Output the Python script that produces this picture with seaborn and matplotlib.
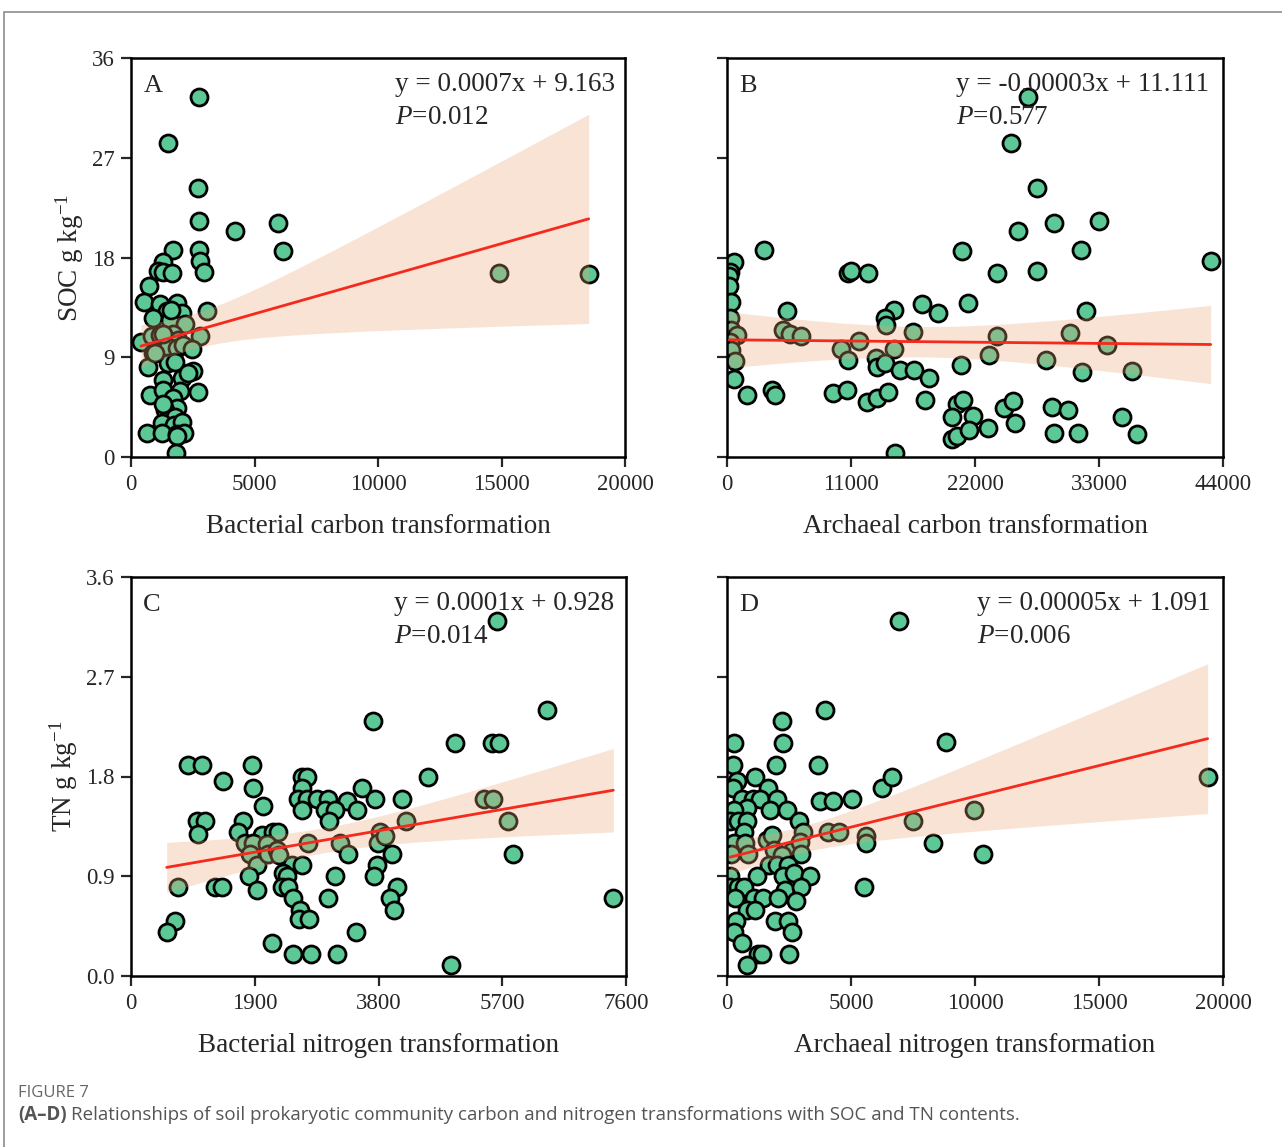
import numpy as np
import pandas as pd
import matplotlib
matplotlib.use('Agg')
import matplotlib.pyplot as plt
from matplotlib.patches import Rectangle
import seaborn as sns

# ---- data ----
# A: SOC vs bacterial carbon transformation
a_x = [2750, 1490, 2710, 2740, 4210, 5950, 6160, 1690, 2750, 2790, 2970, 1310, 1110, 1310, 1645,
       730, 540, 1175, 1850, 1445, 2050, 905, 1580, 2185, 3065, 405, 840, 1175, 1715, 1915, 2795,
       905, 1510, 1850, 2120, 2455, 700, 1480, 1780, 2050, 2525, 2325, 1310, 770, 1310, 1985, 2700,
       1715, 1850, 1375, 1780, 1280, 1240, 1740, 2050, 635, 1240, 1850, 2160, 1850, 1810,
       14910, 18530, 970, 1280, 1600]
a_y = [32.5, 28.3, 24.3, 21.3, 20.4, 21.1, 18.6, 18.7, 18.7, 17.7, 16.7, 17.6, 16.8, 16.7, 16.6,
       15.4, 14.0, 13.8, 13.9, 13.2, 13.0, 12.5, 12.4, 12.0, 13.2, 10.4, 10.9, 11.0, 11.1, 10.6, 10.9,
       9.35, 9.95, 9.8, 10.1, 9.7, 8.15, 8.45, 8.6, 7.1, 7.8, 7.6, 6.95, 5.6, 6.05, 6.0, 5.85,
       5.3, 4.4, 4.25, 3.65, 4.75, 3.05, 2.9, 3.2, 2.2, 2.2, 2.1, 2.15, 1.9, 0.4,
       16.6, 16.5, 9.4, 11.1, 13.3]

# B: SOC vs archaeal carbon transformation
b_x = [26730, 25220, 27470, 29040, 33030, 25850, 3310, 20820, 31430, 42910, 620, 265, 205, 205, 355,
       10760, 11000, 12480, 23920, 27470, 5290, 14810, 14020, 17330, 18690, 21410, 31820,
       265, 355, 860, 265, 355, 4990, 5590, 6560, 10110, 11710, 14080, 14840, 16470, 23240, 23980,
       28270, 30450, 33680, 35900, 710, 620, 1800, 3960, 4260, 10710, 9430, 10670,
       13220, 13330, 14020, 12390, 13330, 14250, 15350, 16620, 17950, 17560, 14900,
       20760, 20370, 20960, 19990, 21850, 19930, 20430, 21500, 23180, 24570, 25340, 25550,
       31460, 28800, 30280, 29040, 31160, 35070, 36340]
b_y = [32.5, 28.3, 24.25, 21.1, 21.3, 20.4, 18.7, 18.6, 18.7, 17.7, 17.6, 16.7, 16.3, 15.4, 14.0,
       16.6, 16.8, 16.6, 16.6, 16.8, 13.2, 13.3, 12.5, 13.8, 13.0, 13.9, 13.2,
       12.5, 11.5, 11.0, 10.4, 9.65, 11.5, 11.1, 10.95, 9.7, 10.5, 11.9, 9.75, 11.25, 9.2, 10.95,
       8.75, 11.15, 10.1, 7.8, 8.7, 7.0, 5.6, 6.05, 5.6, 8.75, 5.75, 6.05,
       8.9, 8.15, 8.5, 5.0, 5.3, 5.9, 7.85, 7.85, 7.1, 5.15, 0.33,
       8.3, 4.8, 5.1, 3.6, 3.7, 1.6, 1.9, 2.45, 2.6, 4.4, 5.05, 3.05,
       7.7, 4.55, 4.2, 2.2, 2.2, 3.65, 2.1]

# C: TN vs bacterial nitrogen transformation
c_x = [5615, 6383, 3720, 4975, 5538, 5650, 880, 1095, 1853, 1408, 1878, 2620, 2697, 4565, 2620,
       3542, 2022, 2569, 2697, 2851, 3030, 3312, 3747, 4166, 2620, 2979, 3132, 3465, 3045,
       1008, 1136, 1034, 1724, 1647, 2006, 2185, 2262, 1750, 1878, 1827, 1930, 2083, 2108,
       2237, 2277, 2722, 3209, 3823, 3797, 3900, 4218, 5425, 5563, 5793, 717,
       3327, 4003, 5870, 2467, 2620, 3772, 1817, 2339, 2390, 3132, 3736,
       1290, 1392, 1930, 2313, 2416, 4089, 2483, 3030, 3977, 7405, 2595, 4043, 2585, 2733,
       676, 548, 3455, 2170, 2483, 2759, 3158, 4913]
c_y = [3.20, 2.40, 2.30, 2.10, 2.10, 2.10, 1.90, 1.90, 1.90, 1.76, 1.70, 1.80, 1.80, 1.80, 1.70,
       1.70, 1.53, 1.60, 1.60, 1.60, 1.60, 1.58, 1.60, 1.60, 1.50, 1.50, 1.50, 1.50, 1.40,
       1.40, 1.40, 1.28, 1.40, 1.30, 1.27, 1.30, 1.30, 1.20, 1.20, 1.10, 1.00, 1.19, 1.10,
       1.14, 1.09, 1.20, 1.20, 1.30, 1.20, 1.26, 1.40, 1.60, 1.60, 1.40, 0.80,
       1.10, 1.10, 1.10, 1.00, 1.00, 1.00, 0.90, 0.93, 0.90, 0.90, 0.90,
       0.80, 0.80, 0.78, 0.80, 0.80, 0.80, 0.70, 0.70, 0.70, 0.70, 0.60, 0.60, 0.51, 0.51,
       0.50, 0.40, 0.40, 0.30, 0.20, 0.20, 0.20, 0.10]

# D: TN vs archaeal nitrogen transformation
d_x = [6948, 3952, 2231, 2272, 282, 8831, 255, 1976, 3683, 390, 1129, 255, 1640, 6237, 6640,
       591, 1062, 1331, 2029, 817, 3750, 4287, 5027, 293, 1734, 2406, 121, 457, 817, 2903, 697,
       293, 726, 161, 833, 1600, 1827, 1907, 2634, 3077, 2944, 4085, 4528, 5605, 7487, 9960,
       5605, 8320, 10335, 2204, 2984, 1694, 2003, 2446, 121, 1196, 2271, 2714, 3347,
       5537, 121, 457, 697, 2339, 2984, 323, 1102, 1439, 2069, 2770, 794, 1129,
       351, 1935, 2472, 294, 2608, 617, 1263, 1398, 2500, 819, 19380]
d_y = [3.20, 2.40, 2.30, 2.10, 2.10, 2.11, 1.90, 1.90, 1.90, 1.76, 1.80, 1.70, 1.70, 1.70, 1.80,
       1.60, 1.60, 1.60, 1.60, 1.52, 1.58, 1.58, 1.60, 1.50, 1.50, 1.50, 1.40, 1.40, 1.40, 1.40, 1.30,
       1.20, 1.20, 1.10, 1.10, 1.23, 1.27, 1.14, 1.13, 1.30, 1.21, 1.30, 1.30, 1.26, 1.40, 1.50,
       1.20, 1.20, 1.10, 1.09, 1.10, 1.00, 1.00, 1.00, 0.90, 0.90, 0.90, 0.93, 0.90,
       0.80, 0.80, 0.80, 0.80, 0.78, 0.80, 0.70, 0.70, 0.70, 0.70, 0.68, 0.60, 0.60,
       0.50, 0.50, 0.50, 0.40, 0.40, 0.30, 0.20, 0.20, 0.20, 0.10, 1.80]

panel_letters = ["A", "B", "C", "D"]
equations = ["y = 0.0007x + 9.163", "y = -0.00003x + 11.111",
             "y = 0.0001x + 0.928", "y = 0.00005x + 1.091"]
p_values = ["0.012", "0.577", "0.014", "0.006"]
x_labels = ["Bacterial carbon transformation", "Archaeal carbon transformation",
            "Bacterial nitrogen transformation", "Archaeal nitrogen transformation"]
x_ticks = [[0, 5000, 10000, 15000, 20000], [0, 11000, 22000, 33000, 44000],
           [0, 1900, 3800, 5700, 7600], [0, 5000, 10000, 15000, 20000]]
soc_ticks = [0, 9, 18, 27, 36]
tn_ticks = [0.0, 0.9, 1.8, 2.7, 3.6]

GREEN = "#5cc896"
RED = "#f5291c"
BAND = "#e9a477"

try:
    from scipy import stats
    def t_crit(df):
        return stats.t.ppf(0.975, df)
except ImportError:
    def t_crit(df):
        return 1.96 + 2.4 / df


def conf_band(xs, ys, grid):
    # 95% confidence band of the least-squares fit (analytic, like the original software)
    x = np.asarray(xs, float)
    y = np.asarray(ys, float)
    n = len(x)
    slope, icept = np.polyfit(x, y, 1)
    resid = y - (slope * x + icept)
    s = np.sqrt((resid ** 2).sum() / (n - 2))
    sxx = ((x - x.mean()) ** 2).sum()
    se = s * np.sqrt(1 / n + (grid - x.mean()) ** 2 / sxx)
    yhat = slope * grid + icept
    h = t_crit(n - 2) * se
    return yhat - h, yhat + h


sns.set_style("ticks")
plt.rcParams['font.family'] = ['Liberation Serif', 'DejaVu Serif']
plt.rcParams['mathtext.fontset'] = 'custom'
plt.rcParams['mathtext.rm'] = 'Liberation Serif'
plt.rcParams['mathtext.it'] = 'Liberation Serif:italic'

W, H = 1282, 1147
fig = plt.figure(figsize=(W / 100, H / 100), dpi=100)


def px_axes(l, t, r, b):
    return fig.add_axes([l / W, 1 - b / H, (r - l) / W, (b - t) / H])


boxes = [(131, 58, 625, 457), (727, 58, 1223, 457), (131, 577, 626, 976), (727, 577, 1223, 976)]
data = [(a_x, a_y), (b_x, b_y), (c_x, c_y), (d_x, d_y)]
eq_x = [0.535, 0.462, 0.532, 0.505]

for i in range(4):
    ax = px_axes(*boxes[i])
    xs, ys = data[i]
    sns.scatterplot(x=xs, y=ys, ax=ax, color=GREEN, edgecolor="black",
                    linewidth=2, s=150, zorder=2)
    sns.regplot(x=xs, y=ys, ax=ax, scatter=False, ci=None,
                color=RED, line_kws={"lw": 2, "zorder": 4})
    grid = np.linspace(min(xs), max(xs), 200)
    lo, hi = conf_band(xs, ys, grid)
    ax.fill_between(grid, lo, hi, facecolor=BAND, alpha=0.3, lw=0, zorder=3)

    yt = soc_ticks if i < 2 else tn_ticks
    ax.set_xlim(x_ticks[i][0], x_ticks[i][-1])
    ax.set_ylim(yt[0], yt[-1])
    ax.set_xticks(x_ticks[i])
    ax.set_yticks(yt)
    if i >= 2:
        ax.set_yticklabels([f"{v:.1f}" for v in yt])
    for sp in ax.spines.values():
        sp.set_linewidth(1.8)
        sp.set_color("black")
    ax.tick_params(direction="out", length=7, width=1.6, labelsize=16.5,
                   top=False, right=False, pad=5)
    if i % 2 == 1:
        ax.tick_params(labelleft=False)
    else:
        ax.set_ylabel("SOC g kg$^{-1}$" if i == 0 else "TN g kg$^{-1}$", fontsize=19.5, labelpad=4)
    ax.set_xlabel(x_labels[i], fontsize=19.5, labelpad=14)

    ax.text(0.025, 0.93, panel_letters[i], transform=ax.transAxes, fontsize=19,
            ha="left", va="center")
    ax.text(eq_x[i], 0.933, equations[i], transform=ax.transAxes, fontsize=19.5,
            ha="left", va="center", zorder=5)
    ax.text(eq_x[i], 0.85, "$P$=" + p_values[i], transform=ax.transAxes, fontsize=19.5,
            ha="left", va="center", zorder=5)

# frame around the figure panel
fig.add_artist(Rectangle((4 / W, -0.1), 1.2, (1 - 12 / H) + 0.1, transform=fig.transFigure,
                         fill=False, edgecolor="#8c8c8c", lw=1.2))

# caption
fig.text(18 / W, 1 - 1093 / H, "FIGURE 7", fontsize=12, color="#666666",
         family=["Open Sans", "DejaVu Sans"], va="center", ha="left")
t = fig.text(18 / W, 1 - 1115 / H, "(A\u2013D)", fontsize=13.5, color="#555555",
             family=["Open Sans", "DejaVu Sans"], weight="bold", va="center", ha="left")
fig.canvas.draw()
bb = t.get_window_extent()
fig.text((bb.x1 + 4) / W, 1 - 1115 / H,
         "Relationships of soil prokaryotic community carbon and nitrogen transformations with SOC and TN contents.",
         fontsize=13.5, color="#555555", family=["Open Sans", "DejaVu Sans"], va="center", ha="left")

fig.savefig("out.png", dpi=100)
